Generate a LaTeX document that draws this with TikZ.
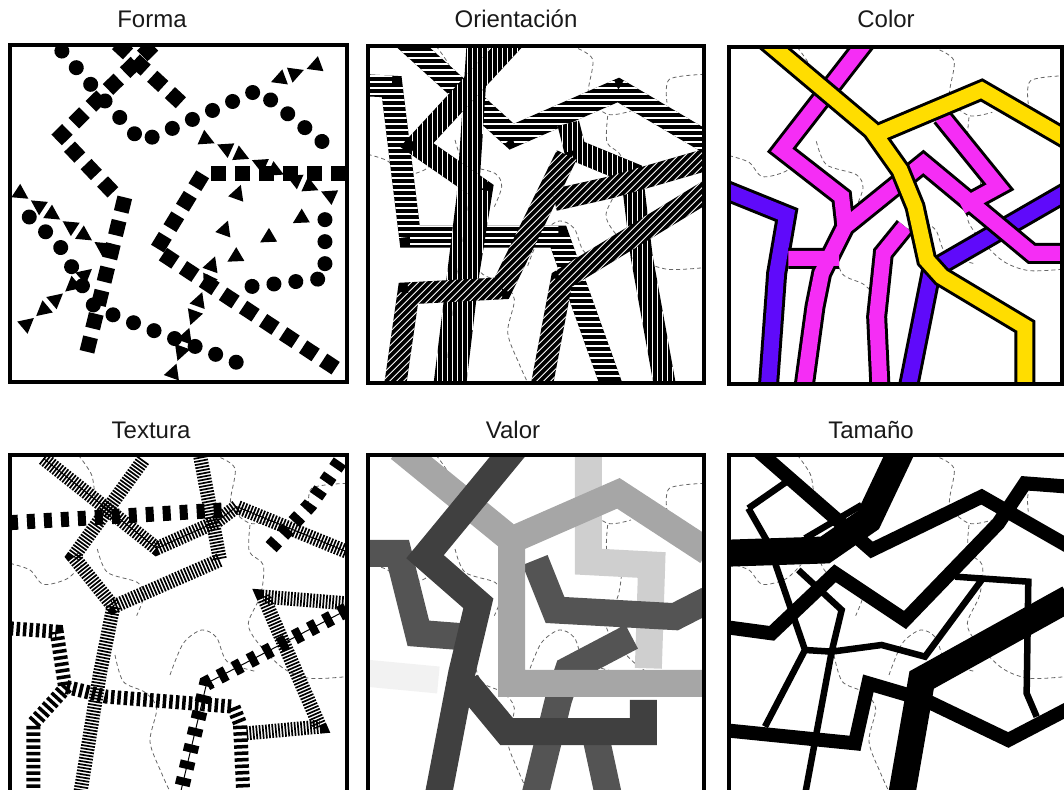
\documentclass[tikz,border=0pt]{standalone}
\usepackage{fontspec}
\newfontfamily\titlefont{Liberation Sans}
\usetikzlibrary{calc,decorations.markings}

% dashed district borders, the same in every map but the first
\newcommand\borders{%
  \draw[bound] plot[smooth] coordinates {(612,0) (675,40) (662,150) (720,205) (790,195)};
  \draw[bound] plot[smooth] coordinates {(1010,85) (905,100) (898,170)};
  \draw[bound] plot[smooth] coordinates {(720,210) (718,290) (760,330) (752,420) (715,505) (745,565) (820,640) (900,670) (1010,665)};
  \draw[bound] plot[smooth] coordinates {(0,325) (60,345) (100,388) (170,372) (215,330)};
  \draw[bound] plot[smooth] coordinates {(262,282) (292,352) (382,382) (402,422) (380,482)};
  \draw[bound] plot[smooth] coordinates {(315,600) (340,680) (405,712) (440,760) (420,860) (455,955) (480,1010)};
  \draw[bound] plot[smooth] coordinates {(480,660) (520,565) (575,525) (620,548) (652,620) (740,650)};
  \draw[bound] plot[smooth] coordinates {(205,0) (245,60) (255,130)};
}

% white stripes for the Orientacion roads
\newcommand\hstripes{\foreach \k in {0,18,...,1010} \draw[white, line width=1.6pt] (0,\k) -- (1010,\k);}
\newcommand\vstripes{\foreach \k in {0,15,...,1010} \draw[white, line width=1.3pt] (\k,0) -- (\k,1010);}
\newcommand\dstripes{\foreach \k in {-1010,-989,...,1010} \draw[white, line width=0.9pt] (\k,1010) -- ++(1010,-1010);}

% black band with stripes clipped to it: #1 stripes, #2 points x/y
\newcommand\stripedroad[2]{%
  \foreach \x/\y [count=\n] in {#2} {\coordinate (rp\n) at (\x,\y); \xdef\rpn{\n}}
  \pgfmathtruncatemacro\rpm{\rpn-1}
  \draw[band] (rp1) \foreach \i in {2,...,\rpn} {-- (rp\i)};
  \begin{scope}
    \clip \foreach \i [evaluate=\i as \j using int(\i+1)] in {1,...,\rpm}
      {($(rp\i)!11pt!90:(rp\j)$) -- ($(rp\j)!11pt!-90:(rp\i)$) -- ($(rp\j)!11pt!90:(rp\i)$) -- ($(rp\i)!11pt!-90:(rp\j)$) -- cycle};
    #1
  \end{scope}}

\definecolor{roadyellow}{RGB}{255,221,0}
\definecolor{roadmagenta}{RGB}{245,45,245}
\definecolor{roadviolet}{RGB}{95,10,250}

\begin{document}
\begin{tikzpicture}[
    x=1pt, y=-1pt,
    % titles, frames, borders
    ttl/.style={font=\titlefont\fontsize{24}{28}\selectfont, text=black!90, anchor=base, inner sep=0pt},
    frame/.style={draw=black, line width=4pt},
    bound/.style={draw=black!60, line width=0.8pt, dash pattern=on 4pt off 3pt},
    panel/.style 2 args={xshift=#1, yshift=#2, x=0.3333pt, y=-0.3333pt},
    % Forma
    sqrow/.style={decorate, decoration={markings,
        mark=between positions 8pt and 1 step 24pt with {\fill (-7.5pt,-7.5pt) rectangle (7.5pt,7.5pt);}}},
    dotrow/.style={decorate, decoration={markings,
        mark=between positions 8pt and 1 step 22pt with {\fill (0pt,0pt) circle[radius=7.5pt];}}},
    trirow/.style={decorate, decoration={markings,
        mark=between positions 8pt and 1 step 38pt with {\fill (8pt,0pt) -- (-7pt,8pt) -- (-7pt,-8pt) -- cycle;},
        mark=between positions 27pt and 1 step 38pt with {\fill (-8pt,0pt) -- (7pt,8pt) -- (7pt,-8pt) -- cycle;}}},
    % Orientacion
    band/.style={draw=black, line width=22pt},
    % Color
    colroad/.style={line width=15pt, draw=#1, preaction={draw=black, line width=21pt}},
    % Textura
    finecomb/.style={line width=14pt, dash pattern=on 1.7pt off 1.5pt},
    midcomb/.style={line width=14pt, dash pattern=on 3.5pt off 3pt},
    coarse/.style={line width=15pt, dash pattern=on 8pt off 9pt},
    midline/.style={postaction={draw=black, line width=1pt, solid}},
    % Valor
    grayroad/.style={line width=27pt, draw=#1},
    % Tamano
    bigroad/.style={line width=27pt},
    midroad/.style={line width=14pt},
    smallroad/.style={line width=6.5pt},
]
\useasboundingbox (0,0) rectangle (1064,789);

% titles
\node[ttl] (tForma) at (152,28) {Forma};
\node[ttl] (tOrient) at (516,28) {Orientación};
\node[ttl] (tColor) at (886,28) {Color};
\node[ttl] (tText) at (151,438) {Textura};
\node[ttl] (tValor) at (513,438) {Valor};
\node[ttl] (tTam) at (871,438) {Tamaño};

% Forma
\begin{scope}[panel={10pt}{-45pt}]
  \begin{scope}
    \clip (0,0) rectangle (1010,1010);
    \path[dotrow] (140,0) -- (300,185) -- (395,290) -- (465,260) -- (745,135) -- (980,325);
    \path[dotrow] (945,500) -- (945,700) -- (720,725);
    \path[dotrow] (40,500) -- (145,595) -- (250,780) -- (310,810) -- (700,960);
    \path[sqrow] (430,0) -- (150,275) -- (340,475) -- (220,965);
    \path[sqrow] (320,-5) -- (520,180);
    \path[sqrow] (1010,385) -- (580,385) -- (440,615) -- (985,975);
    \path[trirow] (935,55) -- (760,120);
    \path[trirow] (570,275) -- (990,465);
    \path[trirow] (890,510) -- (610,675) -- (570,760) -- (480,1010);
    \path[trirow] (15,435) -- (290,615);
    \path[trirow] (35,850) -- (260,660);
  \end{scope}
  \draw[frame] (0,0) rectangle (1010,1010);
\end{scope}

% Orientacion
\begin{scope}[panel={367.7pt}{-46pt}]
  \begin{scope}
    \clip (0,0) rectangle (1010,1010);
    \borders
    \stripedroad{\hstripes}{-20/117, 72/122, 127/572, 572/572, 732/1020}
    \stripedroad{\hstripes}{110/-20, 432/272, 752/132, 1020/290}
    \stripedroad{\vstripes}{330/-10, 300/450, 230/1020}
    \stripedroad{\vstripes}{440/-20, 147/297, 342/432, 302/682, 262/1020}
    \stripedroad{\vstripes}{602/232, 622/312, 792/382, 822/632, 892/1020}
    \stripedroad{\dstripes}{82/1020, 122/742, 402/727, 597/327}
    \stripedroad{\dstripes}{522/1020, 582/702, 1020/435}
    \stripedroad{\dstripes}{560/462, 725/425, 1020/340}
  \end{scope}
  \draw[frame] (0,0) rectangle (1010,1010);
\end{scope}

% Color
\begin{scope}[panel={729pt}{-47.3pt}]
  \begin{scope}
    \clip (0,0) rectangle (1000,1010);
    \borders
    \draw[colroad=roadviolet] (-20,425) -- (173,503) -- (143,678) -- (118,1020)
        (538,1020) -- (608,668) -- (1020,430);
    \draw[colroad=roadmagenta] (413,-20) -- (158,308) -- (338,448) -- (348,538) -- (278,678) -- (258,778) -- (225,1020)
        (178,633) -- (330,633)
        (348,538) -- (583,348) -- (908,618) -- (1020,618)
        (638,208) -- (808,418) -- (698,478)
        (528,538) -- (463,618) -- (443,808) -- (453,1020);
    \draw[colroad=roadyellow] (110,-20) -- (428,248) -- (513,368) -- (558,478) -- (593,638) -- (638,688) -- (888,838) -- (888,1020)
        (440,262) -- (758,128) -- (1020,280);
  \end{scope}
  \draw[frame] (0,0) rectangle (1000,1010);
\end{scope}

% Textura
\begin{scope}[panel={10pt}{-455pt}]
  \begin{scope}
    \clip (0,0) rectangle (1010,1010);
    \borders
    \draw[finecomb] (400,15) -- (190,305) -- (310,455) -- (630,315) -- (570,0);
    \draw[finecomb] (310,455) -- (270,655) -- (210,1020);
    \draw[finecomb] (1010,445) -- (760,425) -- (930,815) -- (710,835);
    \draw[finecomb, midline] (100,10) -- (440,280) -- (620,200) -- (680,155) -- (1010,290);
    \draw[midcomb] (0,520) -- (140,530) -- (165,695) -- (290,725) -- (670,755) -- (690,805) -- (700,1020);
    \draw[midcomb] (170,695) -- (70,805) -- (70,1020);
    \draw[coarse] (0,203) -- (640,165);
    \draw[coarse] (990,20) -- (900,150) -- (780,280);
    \draw[coarse, midline] (1010,465) -- (590,685) -- (510,1020);
  \end{scope}
  \draw[frame] (0,0) rectangle (1010,1010);
\end{scope}

% Valor
\begin{scope}[panel={367.7pt}{-455pt}]
  \begin{scope}
    \clip (0,0) rectangle (1010,1010);
    \borders
    \draw[grayroad=black!5] (0,655) -- (212,675);
    \draw[grayroad=black!19] (662,-20) -- (662,320) -- (852,330) -- (842,640);
    \draw[grayroad=black!67] (-20,295) -- (92,295) -- (152,535) -- (282,545)
        (502,315) -- (562,465) -- (922,485) -- (1020,435)
        (792,545) -- (602,645) -- (572,735) -- (502,1020)
        (682,835) -- (722,1020);
    \draw[grayroad=black!35] (95,-20) -- (432,255) -- (752,115) -- (1020,290)
        (432,255) -- (432,685) -- (1020,685);
    \draw[grayroad=black!75] (440,-20) -- (172,305) -- (332,445) -- (282,655) -- (212,1020)
        (297,685) -- (417,830) -- (827,830) -- (827,735);
  \end{scope}
  \draw[frame] (0,0) rectangle (1010,1010);
\end{scope}

% Tamano
\begin{scope}[panel={729pt}{-455pt}]
  \begin{scope}
    \clip (0,0) rectangle (1010,1010);
    \borders
    \draw[smallroad] (58,160) -- (173,80)
        (58,160) -- (118,265) -- (228,585) -- (108,815)
        (228,585) -- (308,590) -- (458,570) -- (588,605) -- (758,375)
        (678,365) -- (898,380) -- (893,715) -- (923,785)
        (308,590) -- (338,465) -- (208,345)
        (308,590) -- (228,1020)
        (228,250) -- (398,150);
    \draw[midroad] (90,-10) -- (428,285) -- (758,125) -- (1020,275)
        (1020,95) -- (888,85) -- (808,205) -- (528,495) -- (318,355) -- (128,535) -- (-20,515)
        (-20,825) -- (378,865) -- (418,685) -- (588,735) -- (838,855) -- (1020,760);
    \draw[bigroad] (-20,295) -- (288,285) -- (418,195) -- (520,-20)
        (518,1020) -- (578,675) -- (1020,430);
  \end{scope}
  \draw[frame] (0,0) rectangle (1010,1010);
\end{scope}

\end{tikzpicture}
\end{document}
